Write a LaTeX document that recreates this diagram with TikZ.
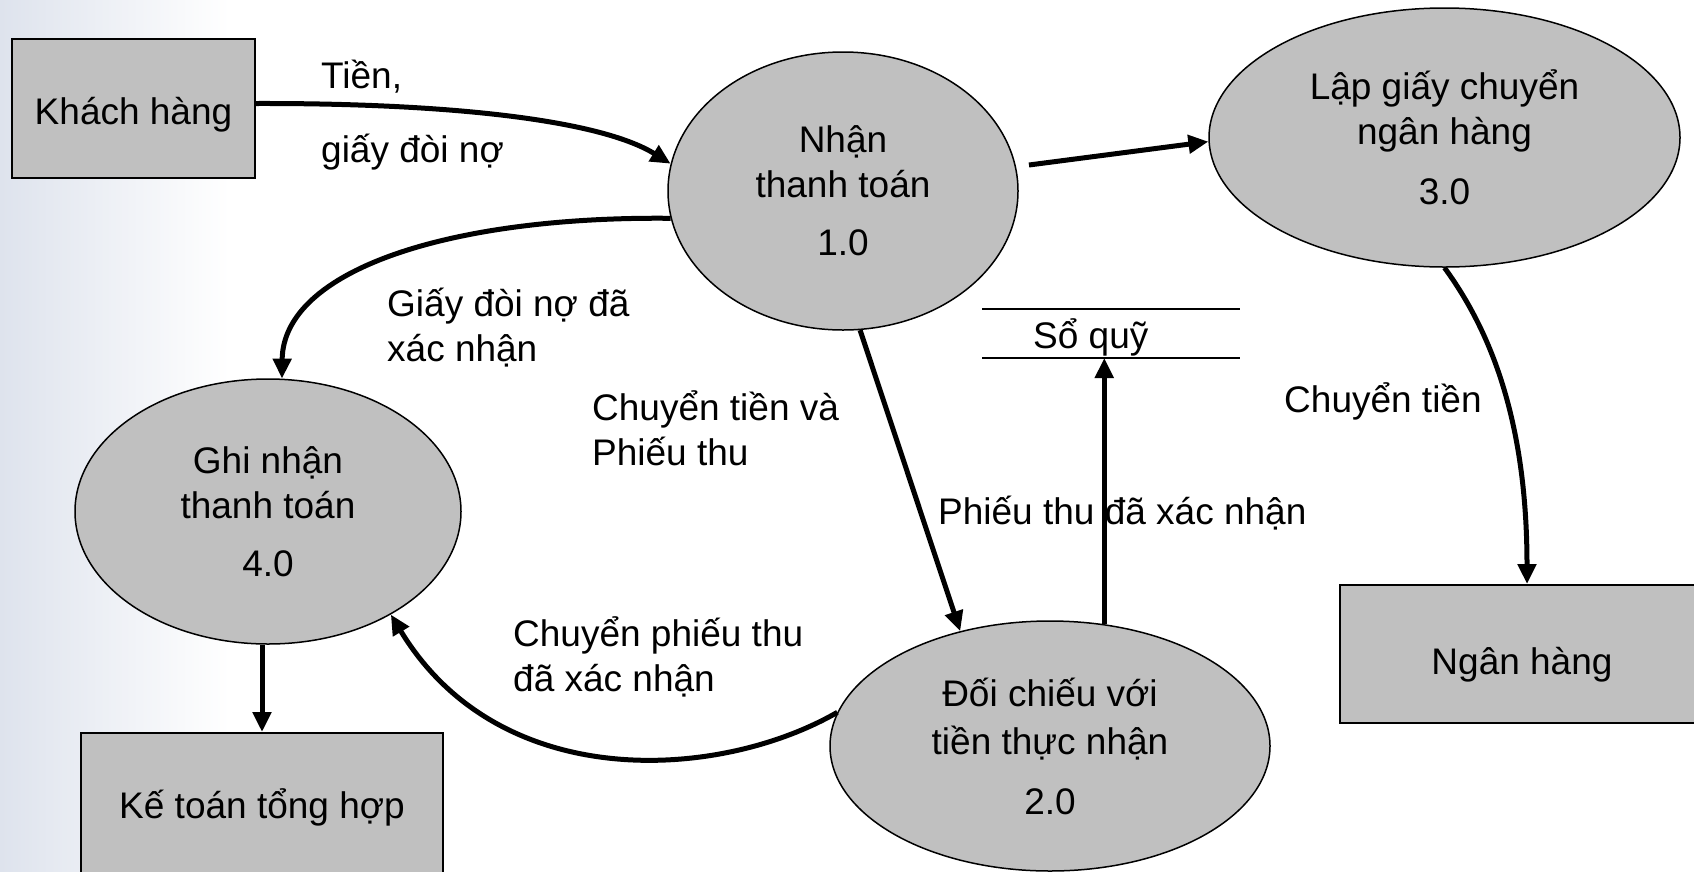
\documentclass[tikz,border=0pt]{standalone}
\usepackage{fontspec}
\setmainfont{Liberation Sans}
\usetikzlibrary{shapes.geometric,arrows.meta}
\definecolor{procfill}{RGB}{192,192,192}
\definecolor{edgeshade}{RGB}{222,227,237}
\begin{document}
\begin{tikzpicture}[x=1pt,y=-1pt,
  every node/.style={font=\fontsize{37}{45}\selectfont, text=black},
  proc/.style={ellipse, draw=black, line width=1.5pt, fill=procfill, align=center, inner sep=0pt},
  entity/.style={rectangle, draw=black, line width=2pt, fill=procfill, inner sep=0pt,
                 text depth=0pt},
  flow/.style={line width=5pt, -{Triangle[length=20pt,width=18pt]}},
  lbl/.style={anchor=base west, align=left, inner sep=0pt},
  storeline/.style={line width=2.5pt}]
\useasboundingbox (0,0) rectangle (1694,871);
\clip (0,0) rectangle (1694,871);
% page background: white with a soft tint along the left edge
\fill[white] (0,0) rectangle (1694,871);
\shade[left color=edgeshade, right color=white] (0,0) rectangle (230,871);

% external entities
\node[entity, text height=32pt, minimum width=243pt, minimum height=139pt] (kh) at (133.5,108.5) {Khách hàng};
\node[entity, minimum width=362pt, minimum height=228pt, anchor=north] (kt) at (262,732) {};
\node[anchor=base, inner sep=0pt] (kttext) at (262,818) {Kế toán tổng hợp};
\node[entity, text height=40pt, minimum width=364pt, minimum height=138pt] (nh) at (1522,654) {Ngân hàng};

% processes
\node[proc, minimum width=350pt, minimum height=278pt] (p1) at (843,191) {Nhận\\thanh toán\\[13pt]1.0};
\node[proc, minimum width=471pt, minimum height=259pt] (p3) at (1444.5,137.5) {Lập giấy chuyển\\ngân hàng\\[15pt]3.0};
\node[proc, minimum width=386pt, minimum height=265pt] (p4) at (268,511.5) {Ghi nhận\\thanh toán\\[13pt]4.0};
\node[proc, minimum width=440pt, minimum height=250pt] (p2) at (1050,746) {Đối chiếu với\\[3pt]tiền thực nhận\\[15pt]2.0};

% data store
\draw[storeline] (982,309) -- (1240,309);
\draw[storeline] (982,358) -- (1240,358);
\node[lbl] (sq) at (1033,348) {Sổ quỹ};
\coordinate (sqin) at (1103,358);

% flow labels (multi-line labels are anchored at their last baseline)
\node[lbl] (l1a) at (321,88) {Tiền,};
\node[lbl] (l1b) at (321,162) {giấy đòi nợ};
\node[lbl] (l2) at (387,361) {Giấy đòi nợ đã\\xác nhận};
\node[lbl] (l3) at (592,465) {Chuyển tiền và\\Phiếu thu};
\node[lbl] (l4) at (938,524) {Phiếu thu đã xác nhận};
\node[lbl] (l5) at (1284,412) {Chuyển tiền};
\node[lbl] (l6) at (513,691) {Chuyển phiếu thu\\đã xác nhận};

% data flows
\draw[flow] ([yshift=5pt]kh.east) .. controls (450,103) and (600,120) .. (p1.171);
\draw[flow, shorten <=13pt] (p1.8) -- (p3.181);
\draw[flow] (p1.189) .. controls (450,216) and (283,270) .. (p4.84);
\draw[flow] (p1.277) -- (p2.128);
\draw[flow] (p2.66) -- (p2.66 |- sqin);
\draw[flow] (p3.south) .. controls (1490,330) and (1527,420) .. ([xshift=5pt]nh.north);
\draw[flow] (p2.171) .. controls (720,780) and (500,795) .. (p4.320);
\draw[flow] (kt.north |- p4.south) -- (kt.north);
\end{tikzpicture}
\end{document}
